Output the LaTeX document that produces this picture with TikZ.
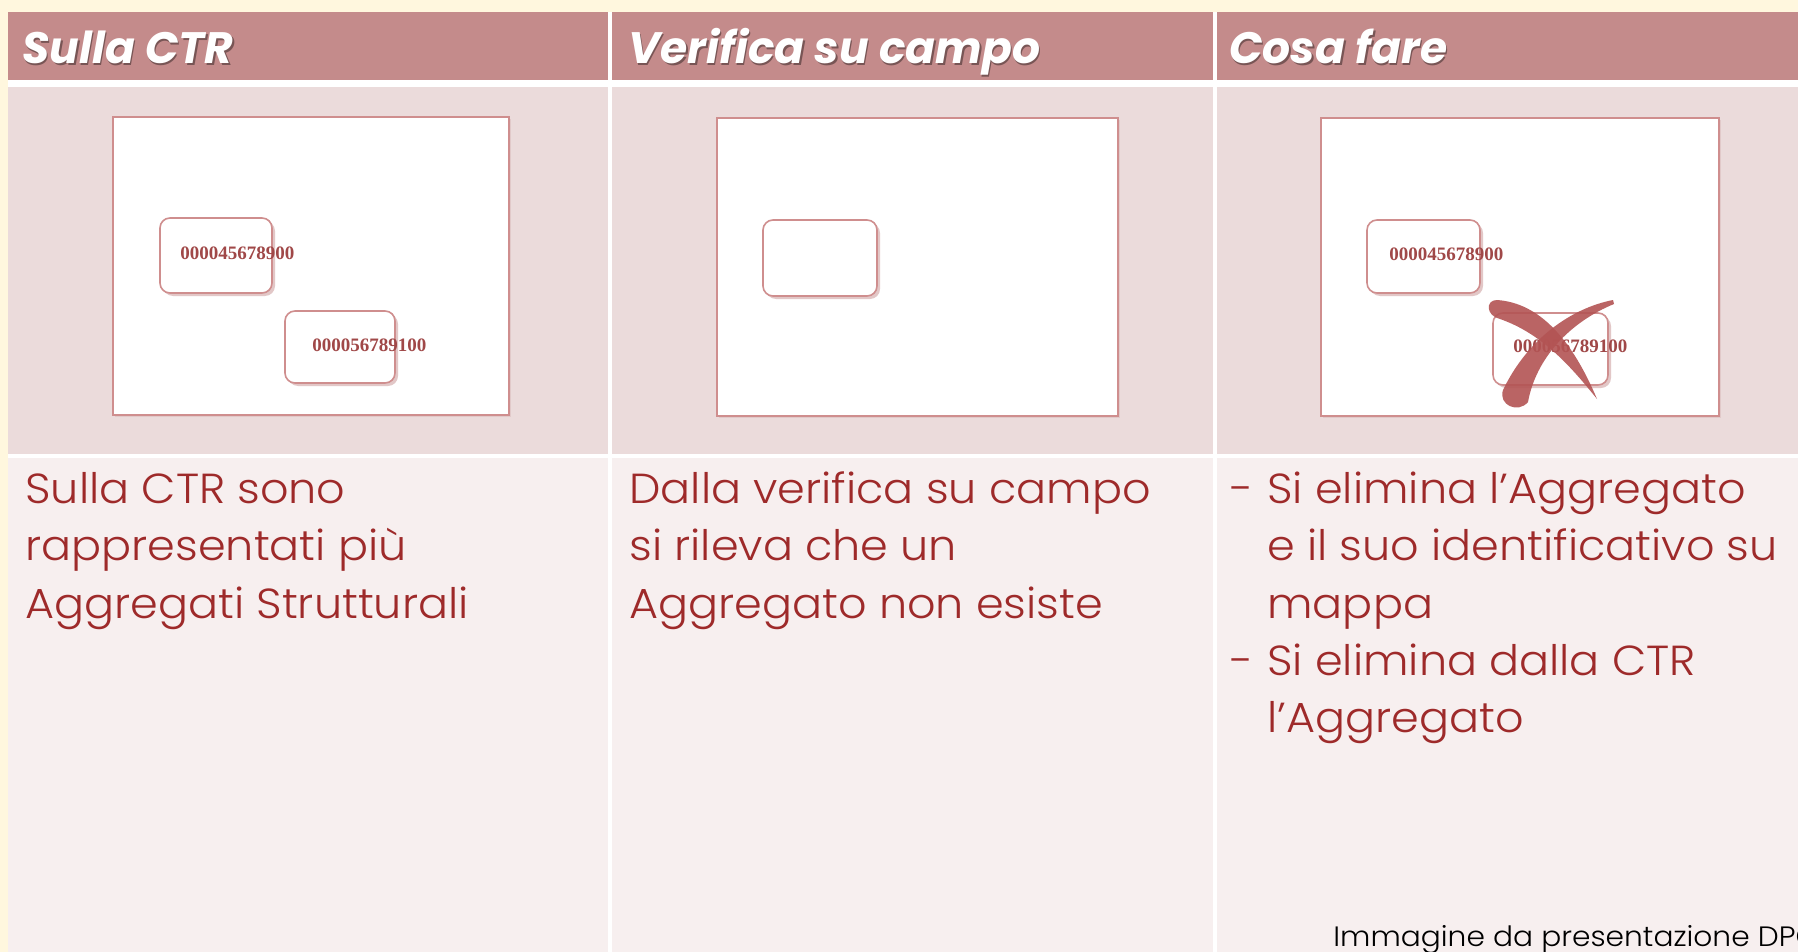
\documentclass[tikz,border=0pt]{standalone}
\usepackage{fontspec}
\usetikzlibrary{shadows}
\IfFontExistsTF{Poppins Light}{\newfontfamily\bodyfont{Poppins Light}[FakeStretch=1.06]}{\newfontfamily\bodyfont{Poppins}[FakeStretch=1.06]}
\newfontfamily\headfont{Poppins}
\newfontfamily\numfont{Liberation Serif}
\definecolor{cream}{HTML}{FFF7DE}
\definecolor{headbg}{HTML}{C48B8B}
\definecolor{imgbg}{HTML}{EBDBDB}
\definecolor{txtbg}{HTML}{F7EFEF}
\definecolor{txtred}{HTML}{9E2A2A}
\definecolor{framec}{HTML}{CF8E8E}
\definecolor{numred}{HTML}{A04848}
\definecolor{xred}{HTML}{B35454}
\tikzset{
  headtxt/.style={anchor=base west, inner sep=0pt, text=white, font=\headfont\bfseries\itshape\fontsize{22}{26}\selectfont},
  headshadow/.style={anchor=base west, inner sep=0pt, text=black!70!headbg, opacity=0.55, font=\headfont\bfseries\itshape\fontsize{22}{26}\selectfont},
  body/.style={anchor=base west, inner sep=0pt, text=txtred, font=\bodyfont\fontsize{21}{26}\selectfont},
  numtxt/.style={anchor=base west, inner sep=0pt, text=numred, font=\numfont\bfseries\fontsize{9.5}{11}\selectfont},
  bigbox/.style={draw=framec, fill=white, line width=0.9pt, drop shadow={shadow xshift=0.8pt, shadow yshift=-0.8pt, opacity=0.12, fill=numred}},
  smallbox/.style={draw=framec, fill=white, line width=0.8pt, rounded corners=5pt, drop shadow={shadow xshift=1.5pt, shadow yshift=-1.5pt, opacity=0.3, fill=numred}},
  xstroke/.style={fill=xred, opacity=0.9},
}
\begin{document}
\begin{tikzpicture}[x=0.5pt, y=-0.5pt]
\useasboundingbox (0,0) rectangle (1798,952);
% background
\fill[cream] (0,0) rectangle (1798,952);
\fill[white] (8,12) rectangle (1798,952);
% header row
\fill[headbg] (8,12) rectangle (608,80);
\fill[headbg] (612,12) rectangle (1213,80);
\fill[headbg] (1217,12) rectangle (1798,80);
% image row
\fill[imgbg] (8,87) rectangle (608,454);
\fill[imgbg] (612,87) rectangle (1213,454);
\fill[imgbg] (1217,87) rectangle (1798,454);
% text row
\fill[txtbg] (8,458) rectangle (608,952);
\fill[txtbg] (612,458) rectangle (1213,952);
\fill[txtbg] (1217,458) rectangle (1798,952);
% headers
\node[headshadow] (h1s) at (23.5,65.5) {Sulla CTR};
\node[headtxt] (h1) at (22,64) {Sulla CTR};
\node[headshadow] (h2s) at (629.5,65.5) {Verifica su campo};
\node[headtxt] (h2) at (628,64) {Verifica su campo};
\node[headshadow] (h3s) at (1230.5,65.5) {Cosa fare};
\node[headtxt] (h3) at (1229,64) {Cosa fare};
% images
\draw[bigbox] (113,117) rectangle (509,415);
\draw[bigbox] (717,118) rectangle (1118,416);
\draw[bigbox] (1321,118) rectangle (1719,416);
% column 1 image
\draw[smallbox] (160,218) rectangle (272,293);
\node[numtxt] (n1) at (180,259) {000045678900};
\draw[smallbox] (285,311) rectangle (395,383);
\node[numtxt] (n2) at (312,351) {000056789100};
% column 2 image
\draw[smallbox] (763,220) rectangle (877,296);
% column 3 image
\draw[smallbox] (1367,220) rectangle (1480,293);
\node[numtxt] (n3) at (1389,261) {000045678900};
\draw[smallbox] (1493,313) rectangle (1608,385);
\node[numtxt] (n4) at (1513,352) {000056789100};
% red cross
\fill[xstroke] (1497,300) .. controls (1540,303) and (1572,340) .. (1597,399) .. controls (1572,368) and (1543,334) .. (1500,319) .. controls (1486,316) and (1485,300) .. (1497,300) -- cycle;
\fill[xstroke] (1613,300) .. controls (1572,308) and (1528,338) .. (1503,390) .. controls (1498,405) and (1518,414) .. (1528,402) .. controls (1536,358) and (1570,322) .. (1614,304) -- cycle;
% texts column 1
\node[body] (a1) at (25,503) {Sulla CTR sono};
\node[body] (a2) at (25,560) {rappresentati più};
\node[body] (a3) at (25,618) {Aggregati Strutturali};
% texts column 2
\node[body] (b1) at (629,503) {Dalla verifica su campo};
\node[body] (b2) at (629,560) {si rileva che un};
\node[body] (b3) at (629,618) {Aggregato non esiste};
% texts column 3
\node[body] (d1) at (1230,503) {-};
\node[body] (c1) at (1267,503) {Si elimina l’Aggregato};
\node[body] (c2) at (1267,560) {e il suo identificativo su};
\node[body] (c3) at (1267,618) {mappa};
\node[body] (d2) at (1230,675) {-};
\node[body] (c4) at (1267,675) {Si elimina dalla CTR};
\node[body] (c5) at (1267,732) {l’Aggregato};
% footer
\node[anchor=base west, inner sep=0pt, text=black, font=\bodyfont\fontsize{14}{17}\selectfont] (foot) at (1333,946) {Immagine da presentazione DPC};
\end{tikzpicture}
\end{document}
